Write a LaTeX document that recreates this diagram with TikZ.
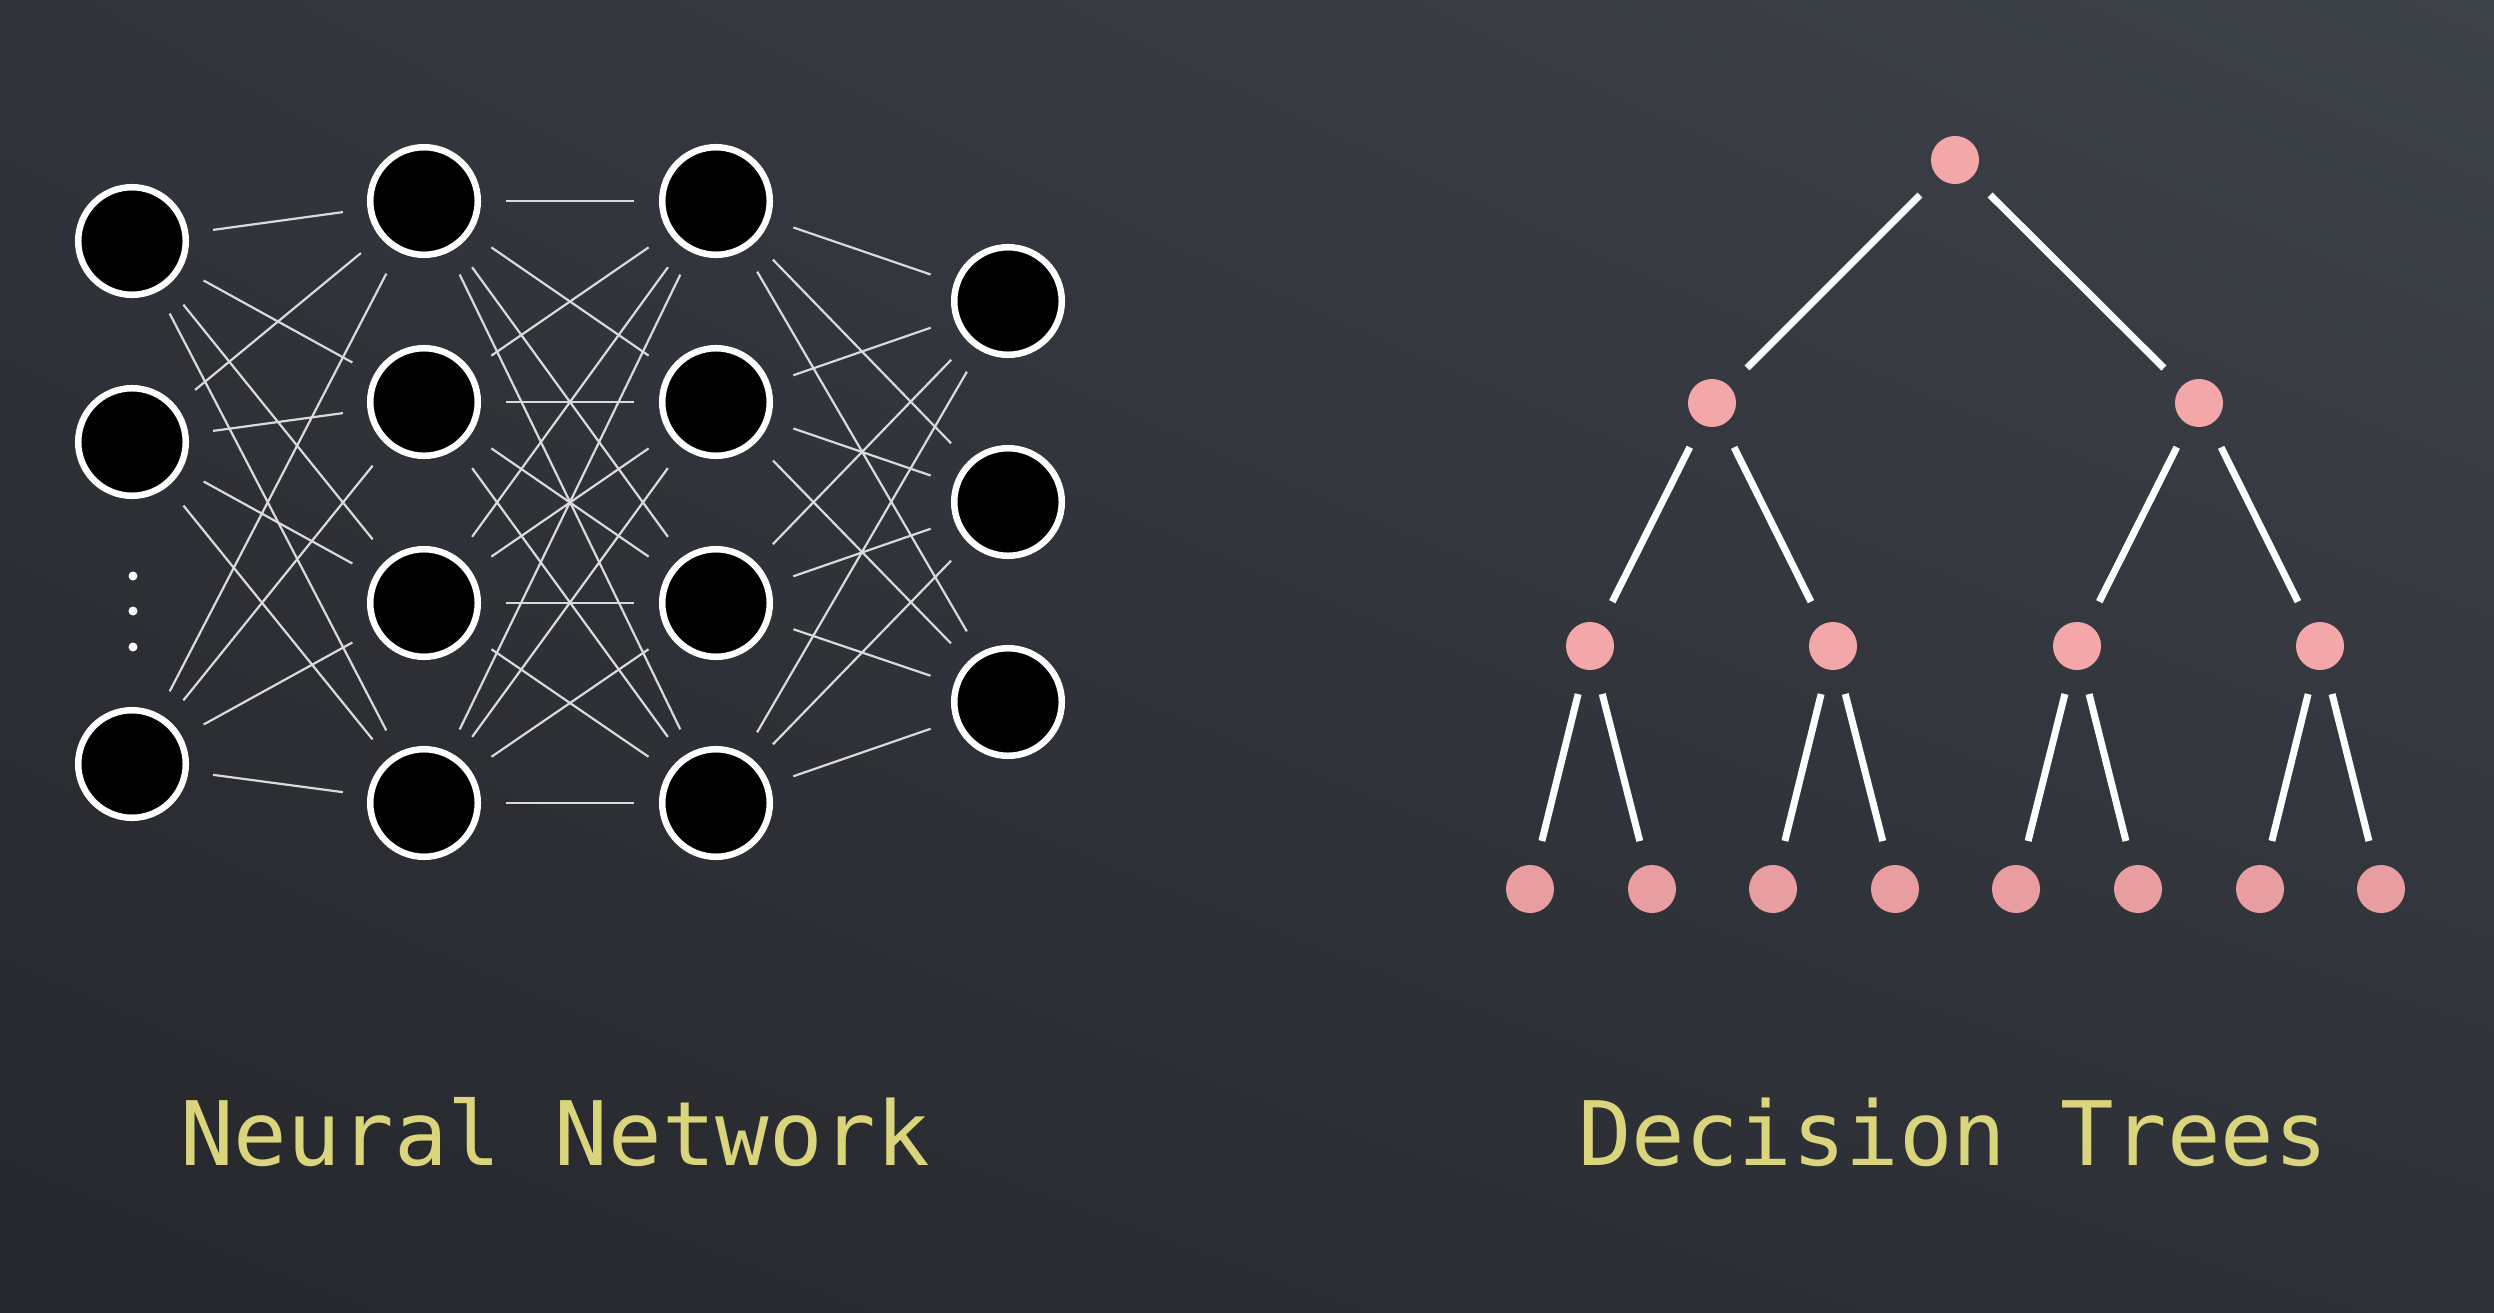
\documentclass[tikz,border=0pt]{standalone}
\usepackage{fontspec}
\setmonofont{DejaVu Sans Mono}
\usepackage{tikz}
\usetikzlibrary{shadings}
\definecolor{bgtl}{HTML}{31343A}
\definecolor{bgtr}{HTML}{3E4249}
\definecolor{bgbl}{HTML}{25272C}
\definecolor{bgbr}{HTML}{2E3137}
\definecolor{ring}{HTML}{FFFFFF}
\definecolor{wire}{HTML}{DADADA}
\definecolor{pink}{HTML}{F4A7A9}
\definecolor{leafpink}{HTML}{E89DA0}
\definecolor{caption}{HTML}{DAD47C}
\tikzset{
  neuron/.style={circle, fill=black, draw=ring, line width=0.065cm, minimum size=1.075cm, inner sep=0pt, outer sep=0pt},
  wire/.style={draw=wire, line width=0.022cm, shorten <=0.28cm, shorten >=0.28cm},
  split/.style={circle, fill=pink, minimum size=0.48cm, inner sep=0pt, outer sep=0pt},
  leaf/.style={split, fill=leafpink},
  branch/.style={draw=white, line width=0.07cm, shorten <=0.255cm, shorten >=0.255cm},
  vdot/.style={circle, fill=white, inner sep=0pt, minimum size=0.09cm},
  caption/.style={text=caption, font=\ttfamily\fontsize{25.3}{30}\selectfont, anchor=base}
}
\begin{document}
\begin{tikzpicture}[x=0.01cm, y=-0.01cm]
  \useasboundingbox (0,0) rectangle (2494,1312);
  \shade[upper left=bgtl, upper right=bgtr, lower left=bgbl, lower right=bgbr] (0,0) rectangle (2494,1312);

  % neural network
  \node[neuron] (x1) at (132,241) {};
  \node[neuron] (x2) at (132,442) {};
  \node[neuron] (x3) at (132,764) {};
  \node[vdot] (d1) at (133,576) {};
  \node[vdot] (d2) at (133,611) {};
  \node[vdot] (d3) at (133,647) {};
  \foreach \y [count=\k] in {201,402,603,803} {
    \node[neuron] (a\k) at (424,\y) {};
    \node[neuron] (b\k) at (716,\y) {};
  }
  \foreach \y [count=\k] in {301,502,702}
    \node[neuron] (o\k) at (1008,\y) {};

  \foreach \i in {x1,x2,x3}
    \foreach \j in {a1,a2,a3,a4}
      \draw[wire] (\i) -- (\j);
  \foreach \i in {a1,a2,a3,a4}
    \foreach \j in {b1,b2,b3,b4}
      \draw[wire] (\i) -- (\j);
  \foreach \i in {b1,b2,b3,b4}
    \foreach \j in {o1,o2,o3}
      \draw[wire] (\i) -- (\j);

  % decision tree
  \node[split] (t) at (1955,160) {};
  \node[split] (l) at (1712,403) {};
  \node[split] (r) at (2199,403) {};
  \node[split] (ll) at (1590,646) {};
  \node[split] (lr) at (1833,646) {};
  \node[split] (rl) at (2077,646) {};
  \node[split] (rr) at (2320,646) {};
  \foreach \x/\n in {1530/lll,1652/llr,1773/lrl,1895/lrr,2016/rll,2138/rlr,2260/rrl,2381/rrr}
    \node[leaf] (\n) at (\x,889) {};

  \foreach \p/\c in {t/l,t/r,l/ll,l/lr,r/rl,r/rr,ll/lll,ll/llr,lr/lrl,lr/lrr,rl/rll,rl/rlr,rr/rrl,rr/rrr}
    \draw[branch] (\p) -- (\c);

  \node[caption] (nn) at (555,1165) {Neural Network};
  \node[caption] (dt) at (1953,1165) {Decision Trees};
\end{tikzpicture}
\end{document}
